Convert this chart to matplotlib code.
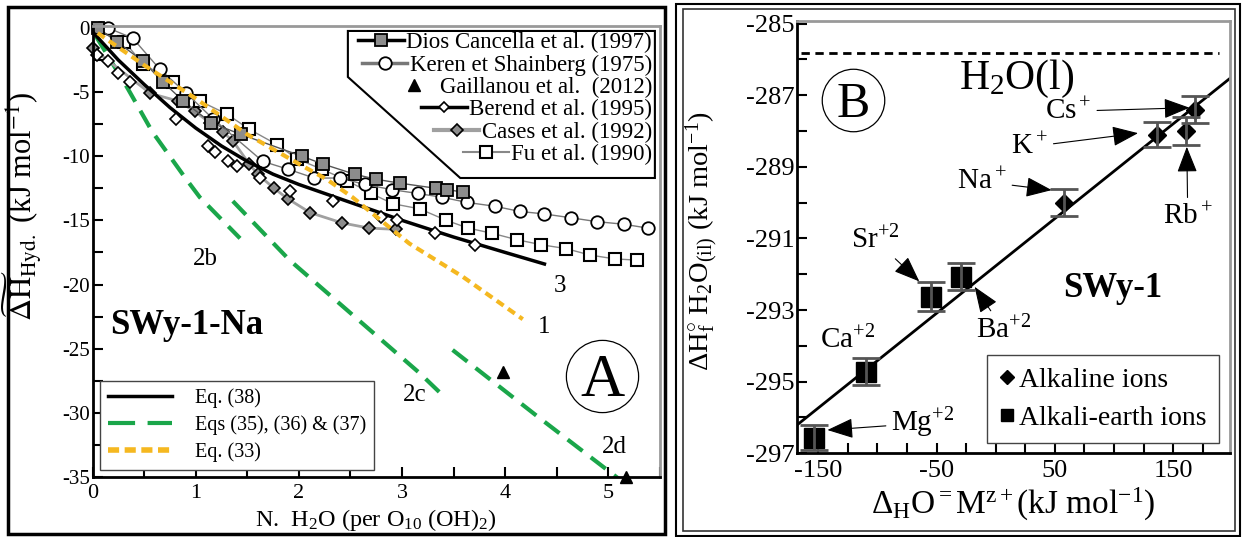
import numpy as np
import matplotlib
matplotlib.use('Agg')
import matplotlib.pyplot as plt
from matplotlib.lines import Line2D
from matplotlib.patches import Polygon, Rectangle
from matplotlib.ticker import MultipleLocator

plt.rcParams['font.family'] = ['Liberation Serif', 'DejaVu Serif']
plt.rcParams['mathtext.fontset'] = 'custom'
plt.rcParams['mathtext.rm'] = 'Liberation Serif'
plt.rcParams['mathtext.it'] = 'Liberation Serif:italic'
plt.rcParams['mathtext.bf'] = 'Liberation Serif:bold'
plt.rcParams['mathtext.default'] = 'rm'
plt.rcParams['axes.unicode_minus'] = False

# ---- Panel A data (N H2O vs hydration enthalpy) ----
dios_x = [0.05, 0.24, 0.49, 0.68, 0.88, 1.15, 1.44, 2.03, 2.23, 2.54, 2.75, 2.98, 3.33, 3.44, 3.59]
dios_y = [0.0, -1.1, -2.6, -4.2, -5.7, -7.4, -8.3, -10.0, -10.6, -11.4, -11.8, -12.1, -12.5, -12.6, -12.8]

ker_x = [0.07, 0.15, 0.39, 0.65, 0.91, 1.17, 1.65, 1.89, 2.15, 2.40, 2.64, 2.90, 3.15, 3.39, 3.63,
         3.90, 4.14, 4.38, 4.64, 4.89, 5.15, 5.38]
ker_y = [0.0, 0.0, -0.8, -3.2, -5.1, -7.1, -10.4, -11.0, -11.7, -11.7, -12.2, -12.6, -12.9, -13.2, -13.6,
         -13.9, -14.3, -14.5, -14.8, -15.1, -15.3, -15.6]

fu_x = [0.31, 0.49, 0.78, 1.04, 1.30, 1.52, 1.79, 1.98, 2.22, 2.47, 2.70, 2.91, 3.17, 3.43, 3.64,
        3.87, 4.11, 4.35, 4.59, 4.82, 5.06, 5.28]
fu_y = [-1.1, -2.8, -4.2, -5.7, -6.7, -7.9, -9.1, -10.2, -11.0, -11.9, -12.9, -13.7, -14.1, -15.0, -15.6,
        -16.0, -16.5, -16.9, -17.2, -17.7, -18.0, -18.1]

ber_x = [0.04, 0.15, 0.25, 0.36, 0.81, 1.12, 1.19, 1.31, 1.40, 1.62, 1.91, 2.33, 2.80, 2.95, 3.32, 3.71]
ber_y = [-2.1, -2.6, -3.5, -4.2, -7.1, -9.2, -9.7, -10.4, -10.8, -11.7, -12.7, -13.5, -14.7, -15.0, -16.0, -16.9]

cas_x = [0.0, 0.56, 0.83, 0.99, 1.14, 1.26, 1.36, 1.52, 1.60, 1.76, 1.89, 2.11, 2.42, 2.68, 2.94]
cas_y = [-1.6, -5.1, -5.7, -6.5, -7.4, -8.1, -8.8, -10.6, -11.4, -12.5, -13.3, -14.4, -15.2, -15.6, -15.7]

gai_x = [3.98, 5.17]
gai_y = [-26.8, -35.0]

eq38_x = [0.0, 0.25, 0.5, 0.75, 1.0, 1.25, 1.5, 1.75, 2.0, 2.5, 3.0, 3.5, 4.0, 4.38]
eq38_y = [-0.3, -2.5, -4.4, -6.2, -7.8, -9.2, -10.4, -11.4, -12.2, -13.6, -15.0, -16.3, -17.5, -18.4]

eq33_x = [0.05, 0.5, 1.0, 1.5, 2.0, 2.27, 2.52, 2.78, 3.07, 3.59, 4.17]
eq33_y = [-0.4, -2.9, -5.5, -8.3, -10.6, -11.8, -13.2, -14.9, -16.8, -19.4, -22.7]

eq2b_x = [0.03, 0.34, 0.58, 0.9, 1.04, 1.43]
eq2b_y = [-0.6, -4.7, -8.1, -11.7, -13.2, -16.4]
eq2c_x = [1.36, 1.91, 3.17, 3.39]
eq2c_y = [-13.5, -18.1, -26.9, -28.6]
eq2d_x = [3.49, 4.30, 5.11]
eq2d_y = [-25.1, -30.2, -35.2]

# ---- Panel B data ----
alk_ions = ['Na$^+$', 'K$^+$', 'Rb$^+$', 'Cs$^+$']
alk_x = [58, 136, 161, 168.5]
alk_y = [-290.0, -288.1, -288.0, -287.4]
alk_err = [0.38, 0.36, 0.40, 0.37]

ae_ions = ['Mg$^{+2}$', 'Ca$^{+2}$', 'Sr$^{+2}$', 'Ba$^{+2}$']
ae_x = [-154, -110, -55, -29]
ae_y = [-296.57, -294.72, -292.63, -292.07]
ae_err = [0.35, 0.37, 0.40, 0.38]

h2o_liquid = -285.83

W, H = 1243, 537
fig = plt.figure(figsize=(W / 100, H / 100), dpi=100)

# outer frames
fig.add_artist(Rectangle((8 / W, 1 - 534 / H), (665 - 8) / W, (534 - 7) / H,
                         transform=fig.transFigure, fill=False, ec='black', lw=2.5))
fig.add_artist(Rectangle((676 / W, 1 - 536 / H), (1240 - 676) / W, (536 - 4) / H,
                         transform=fig.transFigure, fill=False, ec='black', lw=1.5))
fig.add_artist(Rectangle((683 / W, 1 - 531 / H), (1235 - 683) / W, (531 - 9) / H,
                         transform=fig.transFigure, fill=False, ec='#333333', lw=1.2))


def style_axes(ax, fs_x, fs_y):
    for s in ['left', 'bottom']:
        ax.spines[s].set_color('black')
        ax.spines[s].set_linewidth(2)
    for s in ['top', 'right']:
        ax.spines[s].set_color('#999999')
        ax.spines[s].set_linewidth(2)
    ax.tick_params(which='both', direction='in', top=False, right=False, width=1.5, length=7)
    ax.tick_params(axis='x', labelsize=fs_x, pad=5)
    ax.tick_params(axis='y', labelsize=fs_y, pad=2)


# ================= Panel A =================
ax1 = fig.add_axes([92.5 / W, (H - 477) / H, (660 - 92.5) / W, (477 - 26) / H])
ax1.set_xlim(0, 5.5)
ax1.set_ylim(-35, 0.15)
style_axes(ax1, 16, 15)
ax1.xaxis.set_major_locator(MultipleLocator(1))
ax1.xaxis.set_minor_locator(MultipleLocator(0.5))
ax1.yaxis.set_major_locator(MultipleLocator(5))
ax1.yaxis.set_minor_locator(MultipleLocator(2.5))

green = '#1aa64a'
yellow = '#f5b820'

ax1.plot(eq2b_x, eq2b_y, color=green, lw=3, dashes=(4.5, 2.5))
ax1.plot(eq2c_x, eq2c_y, color=green, lw=3, dashes=(4.5, 2.5))
ax1.plot(eq2d_x, eq2d_y, color=green, lw=3, dashes=(4.5, 2.5))

ax1.plot(cas_x, cas_y, color='#a0a0a0', lw=2, marker='D', ms=6.5, mfc='#8c8c8c', mec='black', mew=1.2,
         clip_on=False)
ax1.plot(fu_x, fu_y, color='#888888', lw=1, marker='s', ms=8.5, mfc='white', mec='black', mew=1.5,
         clip_on=False)
ax1.plot(ker_x, ker_y, color='#777777', lw=1, marker='o', ms=9, mfc='white', mec='black', mew=1.3,
         clip_on=False)
ax1.plot(dios_x, dios_y, color='#555555', lw=1, marker='s', ms=8.5, mfc='#8c8c8c', mec='black', mew=1.3,
         clip_on=False)
ax1.plot(eq38_x, eq38_y, color='black', lw=2.5)
ax1.plot(ber_x, ber_y, ls='none', marker='D', ms=6.5, mfc='white', mec='black', mew=1.2, clip_on=False)
ax1.plot(eq33_x, eq33_y, color=yellow, lw=3, dashes=(2, 1.3))
ax1.plot(gai_x, gai_y, ls='none', marker='^', ms=8, color='black', clip_on=False)

ax1.set_xlabel('N.  H$_2$O (per O$_{10}$ (OH)$_2$)', fontsize=17.5, labelpad=3)
ax1.set_ylabel(r'$\widetilde{\Delta H}_{Hyd.}$ (kJ mol$^{-1}$)', fontsize=22, math_fontfamily='stix')
ax1.yaxis.set_label_coords(-0.085, 0.60)

ax1.text(1.09, -18.0, '2b', fontsize=18, ha='center', va='center')
ax1.text(3.12, -28.6, '2c', fontsize=18, ha='center', va='center')
ax1.text(5.06, -32.7, '2d', fontsize=18, ha='center', va='center')
ax1.text(4.53, -20.1, '3', fontsize=18, ha='center', va='center')
ax1.text(4.38, -23.3, '1', fontsize=18, ha='center', va='center')
ax1.plot([4.94], [-27.1], marker='o', ms=52, mfc='none', mec='black', mew=0.9)
ax1.text(4.94, -27.55, 'A', fontsize=44, ha='center', va='center')
ax1.text(0.17, -23.2, 'SWy-1-Na', fontsize=25, fontweight='bold', va='center')

# reference legend (top right, cut-corner box)
ref_handles = [
    Line2D([], [], color='black', lw=2.5, marker='s', ms=8.5, mfc='#8c8c8c', mec='black', mew=1.3),
    Line2D([], [], color='#777777', lw=2.5, marker='o', ms=9, mfc='white', mec='black', mew=1.3),
    Line2D([], [], ls='none', marker='^', ms=9, color='black'),
    Line2D([], [], color='black', lw=2.5, marker='D', ms=5.5, mfc='white', mec='black', mew=1.2),
    Line2D([], [], color='#a0a0a0', lw=3, marker='D', ms=6.5, mfc='#8c8c8c', mec='black', mew=1.2),
    Line2D([], [], color='#888888', lw=1.5, marker='s', ms=8.5, mfc='white', mec='black', mew=1.5),
]
ref_labels = ['Dios Cancella et al. (1997)', 'Keren et Shainberg (1975)', 'Gaillanou et al.  (2012)',
              'Berend et al. (1995)', 'Cases et al. (1992)', 'Fu et al. (1990)']
leg1 = ax1.legend(ref_handles, ref_labels, loc='upper right', bbox_to_anchor=(0.992, 0.994),
                  frameon=False, fontsize=16.5, handlelength=2.0, handletextpad=0.1,
                  labelspacing=0.05, borderpad=0.15, borderaxespad=0)
for col in leg1._legend_handle_box.get_children():
    col.align = 'right'
ax1.add_patch(Polygon([[0.450, 0.989], [0.991, 0.989], [0.991, 0.663], [0.648, 0.663], [0.450, 0.887]],
                      closed=True, transform=ax1.transAxes, fc='white', ec='black', lw=1.5, zorder=4.5))
ax1.add_artist(leg1)

eq_handles = [
    Line2D([], [], color='black', lw=2.5),
    Line2D([], [], color=green, lw=3, dashes=(6.5, 3)),
    Line2D([], [], color=yellow, lw=4, dashes=(2, 1)),
]
eq_labels = ['Eq. (38)', 'Eqs (35), (36) & (37)', 'Eq. (33)']
leg2 = ax1.legend(eq_handles, eq_labels, loc='lower left', bbox_to_anchor=(0.013, 0.0155),
                  fancybox=False, edgecolor='#444444', framealpha=1, fontsize=14.5, handlelength=3.2,
                  borderaxespad=0, borderpad=0.4, handletextpad=1.1, labelspacing=0.35)
leg2.get_frame().set_linewidth(1.0)

# ================= Panel B =================
ax2 = fig.add_axes([797 / W, (H - 453.3) / H, (1230 - 797) / W, (453.3 - 20.7) / H])
ax2.set_xlim(-168, 198)
ax2.set_ylim(-297, -284.92)
style_axes(ax2, 19, 19)
ax2.set_xticks([-150, -50, 50, 150])
ax2.xaxis.set_minor_locator(MultipleLocator(25))
ax2.set_yticks([-297, -295, -293, -291, -289, -287, -285])
ax2.yaxis.set_minor_locator(MultipleLocator(1))

ax2.axhline(h2o_liquid, xmin=0.01, xmax=0.975, color='black', lw=2, dashes=(3, 2))

all_x = np.array(alk_x + ae_x)
all_y = np.array(alk_y + ae_y)
slope, icpt = np.polyfit(all_x, all_y, 1)
xl = np.array(ax2.get_xlim())
ax2.plot(xl, slope * xl + icpt, color='black', lw=2)

ax2.plot(ae_x, ae_y, ls='none', marker='s', ms=14, color='black', zorder=3)
ax2.plot(alk_x, alk_y, ls='none', marker='D', ms=9, color='black', zorder=3)
ax2.errorbar(ae_x, ae_y, yerr=ae_err, fmt='none', ecolor='#555555', elinewidth=2, capsize=10,
             capthick=2, zorder=4)
ax2.errorbar(alk_x, alk_y, yerr=alk_err, fmt='none', ecolor='#555555', elinewidth=2, capsize=10,
             capthick=2, zorder=4)

arrow = dict(arrowstyle='-|>,head_length=0.9,head_width=0.35', color='black', lw=0.8,
             mutation_scale=18, shrinkA=2, shrinkB=0)
fs_ion = 21
ax2.annotate(alk_ions[3], xy=(163.8, -287.35), xytext=(61.3, -287.45), fontsize=fs_ion,
             ha='center', va='center', arrowprops=arrow)
ax2.annotate(alk_ions[1], xy=(120.3, -288.06), xytext=(28.6, -288.44), fontsize=fs_ion,
             ha='center', va='center', arrowprops=arrow)
ax2.annotate(alk_ions[0], xy=(47.3, -289.65), xytext=(-11.8, -289.41), fontsize=fs_ion,
             ha='center', va='center', arrowprops=arrow)
ax2.annotate(alk_ions[2], xy=(161.5, -288.44), xytext=(162.3, -290.39), fontsize=fs_ion,
             ha='center', va='center', arrowprops=arrow)
ax2.annotate(ae_ions[2], xy=(-64.6, -292.2), xytext=(-101.9, -291.04), fontsize=fs_ion,
             ha='center', va='center', arrowprops=arrow)
ax2.annotate(ae_ions[3], xy=(-17.9, -292.35), xytext=(6.8, -293.56), fontsize=fs_ion,
             ha='center', va='center', arrowprops=arrow)
ax2.text(-125.2, -293.84, ae_ions[1], fontsize=fs_ion, ha='center', va='center')
ax2.annotate(ae_ions[0], xy=(-142.3, -296.35), xytext=(-61.5, -296.16), fontsize=fs_ion,
             ha='center', va='center', arrowprops=arrow)

ax2.plot([-120.5], [-287.13], marker='o', ms=45, mfc='none', mec='black', mew=0.9)
ax2.text(-120.5, -287.28, 'B', fontsize=36, ha='center', va='center')
ax2.text(17.8, -286.55, 'H$_2$O(l)', fontsize=30, ha='center', va='center')
ax2.text(98.5, -292.39, 'SWy-1', fontsize=25, fontweight='bold', ha='center', va='center')

ax2.set_xlabel(r'$\Delta_H$O$^{=}$M$^{z+}$(kJ mol$^{-1}$)', fontsize=24, labelpad=3)
ax2.set_ylabel(r'$\Delta$H$^{\circ}_{f}$ H$_2$O$_{(il)}$ (kJ mol$^{-1}$)', fontsize=20.5)
ax2.yaxis.set_label_coords(-0.175, 0.49)

ion_handles = [Line2D([], [], ls='none', marker='D', ms=7, color='black'),
               Line2D([], [], ls='none', marker='s', ms=9, color='black')]
leg3 = ax2.legend(ion_handles, ['Alkaline ions', 'Alkali-earth ions'], loc='lower right',
                  bbox_to_anchor=(0.975, 0.023), fancybox=False, edgecolor='#444444', framealpha=1,
                  fontsize=20, handlelength=0.5, handletextpad=0.2, borderaxespad=0,
                  borderpad=0.45, labelspacing=0.45)
leg3.get_frame().set_linewidth(1.0)

fig.savefig('out.png', dpi=100)
